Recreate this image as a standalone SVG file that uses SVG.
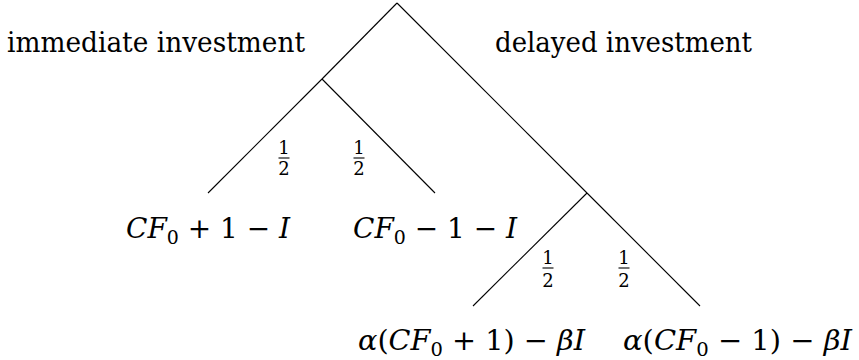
<svg xmlns="http://www.w3.org/2000/svg" width="859" height="360" viewBox="0 0 859 360">
<style>
.e{stroke:#000;stroke-width:1.1;fill:none}
.t{font-size:27px;fill:#000}
.m{font-size:28px;fill:#000}
.i{font-style:italic}
.s{font-size:19px}
.f{font-size:18px;fill:#000;text-anchor:middle}
</style>
<rect width="859" height="360" fill="#fff"/>
<g id="connectors">
<line class="e" x1="397" y1="3" x2="322" y2="79"/>
<line class="e" x1="397" y1="3" x2="587" y2="193"/>
<line class="e" x1="322" y1="79" x2="208" y2="193"/>
<line class="e" x1="322" y1="79" x2="435" y2="193"/>
<line class="e" x1="587" y1="193" x2="473" y2="306"/>
<line class="e" x1="587" y1="193" x2="700" y2="306"/>
</g>
<g font-family="DejaVu Serif, serif">
<g id="label-immediate"><text class="t" x="7" y="52" textLength="298" lengthAdjust="spacingAndGlyphs">immediate investment</text></g>
<g id="label-delayed"><text class="t" x="495" y="52" textLength="257" lengthAdjust="spacingAndGlyphs">delayed investment</text></g>
<g id="prob1"><text class="f" x="284" y="154">1</text><line class="e" x1="278.5" y1="158" x2="289.5" y2="158"/><text class="f" x="284" y="175">2</text></g>
<g id="prob2"><text class="f" x="359" y="154">1</text><line class="e" x1="353.5" y1="158" x2="364.5" y2="158"/><text class="f" x="359" y="175">2</text></g>
<g id="prob3"><text class="f" x="548" y="264">1</text><line class="e" x1="542.5" y1="268" x2="553.5" y2="268"/><text class="f" x="548" y="287">2</text></g>
<g id="prob4"><text class="f" x="624" y="264">1</text><line class="e" x1="618.5" y1="268" x2="629.5" y2="268"/><text class="f" x="624" y="287">2</text></g>
<g id="leaf1"><text class="m" x="126" y="238" textLength="164" lengthAdjust="spacingAndGlyphs"><tspan class="i">CF</tspan><tspan class="s" dy="6">0</tspan><tspan dy="-6"> + 1 − </tspan><tspan class="i">I</tspan></text></g>
<g id="leaf2"><text class="m" x="353" y="238" textLength="164" lengthAdjust="spacingAndGlyphs"><tspan class="i">CF</tspan><tspan class="s" dy="6">0</tspan><tspan dy="-6"> − 1 − </tspan><tspan class="i">I</tspan></text></g>
<g id="leaf3"><text class="m" x="358" y="350" textLength="227" lengthAdjust="spacingAndGlyphs"><tspan class="i">α</tspan>(<tspan class="i">CF</tspan><tspan class="s" dy="6">0</tspan><tspan dy="-6"> + 1) − </tspan><tspan class="i">βI</tspan></text></g>
<g id="leaf4"><text class="m" x="623" y="350" textLength="229" lengthAdjust="spacingAndGlyphs"><tspan class="i">α</tspan>(<tspan class="i">CF</tspan><tspan class="s" dy="6">0</tspan><tspan dy="-6"> − 1) − </tspan><tspan class="i">βI</tspan></text></g>
</g>
</svg>
